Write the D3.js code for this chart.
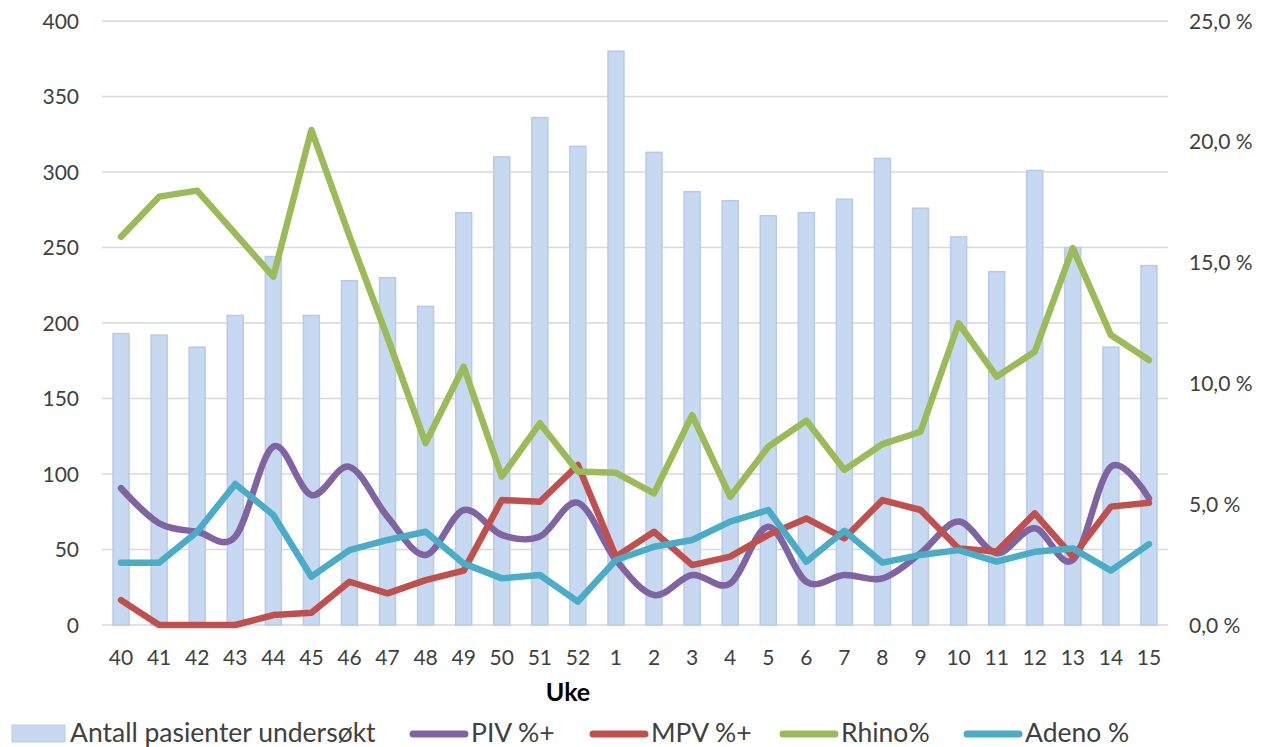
<!DOCTYPE html>
<html>
<head>
<meta charset="utf-8">
<script src="https://cdn.jsdelivr.net/npm/d3@7"></script>
<style>
  body { margin: 0; background: #fff; }
  text { font-family: Lato, "Open Sans", sans-serif; fill: #404040; }
</style>
</head>
<body>
<script>
var weeks = ["40","41","42","43","44","45","46","47","48","49","50","51","52",
  "1","2","3","4","5","6","7","8","9","10","11","12","13","14","15"];

// Antall pasienter undersøkt (left axis)
var patients = [193,192,184,205,244,205,228,230,211,273,310,336,317,
  380,313,287,281,271,273,282,309,276,257,234,301,250,184,238];

// percent series (right axis)
var piv = [5.66,4.21,3.86,3.66,7.38,5.38,6.55,4.48,2.90,4.76,3.73,3.66,5.06,
  2.69,1.24,2.07,1.72,4.07,1.79,2.07,1.93,2.97,4.28,2.97,4.00,2.69,6.55,5.24];
var mpv = [1.03,0,0,0,0.41,0.51,1.79,1.31,1.86,2.25,5.17,5.10,6.62,
  2.83,3.86,2.48,2.83,3.73,4.41,3.59,5.17,4.76,3.17,3.04,4.62,2.83,4.90,5.06];
var rhino = [16.07,17.73,17.98,16.2,14.42,20.49,16.1,11.9,7.53,10.69,6.14,8.35,6.35,
  6.30,5.45,8.69,5.31,7.38,8.46,6.42,7.49,8.00,12.49,10.28,11.31,15.6,12.0,10.97];
var adeno = [2.58,2.58,3.86,5.84,4.55,2.00,3.10,3.52,3.86,2.55,1.93,2.07,0.97,
  2.69,3.24,3.52,4.28,4.76,2.62,3.90,2.58,2.90,3.10,2.62,3.03,3.17,2.25,3.35];

var leftTicks = [0,50,100,150,200,250,300,350,400];
var rightTicks = [0,5,10,15,20,25];

var series = [
  { name: "PIV %+", values: piv, color: "#8064a2", smooth: true },
  { name: "MPV %+", values: mpv, color: "#c0504d", smooth: false },
  { name: "Rhino%", values: rhino, color: "#9bbb59", smooth: false },
  { name: "Adeno %", values: adeno, color: "#4bacc6", smooth: false }
];

var width = 1268, height = 747;
var plotLeft = 102, plotRight = 1168, plotTop = 21, plotBottom = 625;

var svg = d3.select("body").append("svg")
  .attr("width", width).attr("height", height);

var x = d3.scaleBand().domain(weeks).range([plotLeft, plotRight])
  .paddingInner(0.58).paddingOuter(0.29);
var yL = d3.scaleLinear().domain([0, 400]).range([plotBottom, plotTop]);
var yR = d3.scaleLinear().domain([0, 25]).range([plotBottom, plotTop]);

function cx(w) { return x(w) + x.bandwidth() / 2; }

// gridlines
svg.append("g").selectAll("line").data(leftTicks).enter().append("line")
  .attr("x1", plotLeft).attr("x2", plotRight)
  .attr("y1", function (d) { return yL(d); })
  .attr("y2", function (d) { return yL(d); })
  .attr("stroke", "#d9d9d9").attr("stroke-width", 1.5);

// left axis labels
svg.append("g").selectAll("text").data(leftTicks).enter().append("text")
  .attr("x", 79).attr("y", function (d) { return yL(d) + 7.5; })
  .attr("text-anchor", "end").style("font-size", "21px")
  .text(function (d) { return d; });

// right axis labels
var fmt = function (d) { return d3.format(".1f")(d).replace(".", ",") + " %"; };
svg.append("g").selectAll("text").data(rightTicks).enter().append("text")
  .attr("x", 1189).attr("y", function (d) { return yR(d) + 7.5; })
  .attr("text-anchor", "start").style("font-size", "21px")
  .text(fmt);

// bars
svg.append("g").selectAll("rect").data(patients).enter().append("rect")
  .attr("x", function (d, i) { return x(weeks[i]); })
  .attr("width", x.bandwidth())
  .attr("y", function (d) { return yL(d); })
  .attr("height", function (d) { return plotBottom - yL(d); })
  .attr("fill", "#c6d9f0").attr("stroke", "#b6cbe8").attr("stroke-width", 1.5);

// x labels
svg.append("g").selectAll("text").data(weeks).enter().append("text")
  .attr("x", function (d) { return cx(d); }).attr("y", 665)
  .attr("text-anchor", "middle").style("font-size", "21px")
  .text(function (d) { return d; });

svg.append("text").attr("x", 568).attr("y", 701)
  .attr("text-anchor", "middle")
  .style("font-size", "25px").style("font-weight", "bold").style("fill", "#000")
  .text("Uke");

// lines
series.forEach(function (s) {
  var line = d3.line()
    .x(function (d, i) { return cx(weeks[i]); })
    .y(function (d) { return yR(d); })
    .curve(s.smooth ? d3.curveCardinal.tension(0) : d3.curveLinear);
  svg.append("path").datum(s.values)
    .attr("d", line)
    .attr("fill", "none").attr("stroke", s.color)
    .attr("stroke-width", 6.5)
    .attr("stroke-linejoin", "round").attr("stroke-linecap", "round");
});

// legend
var lg = svg.append("g");
lg.append("rect").attr("x", 12).attr("y", 725).attr("width", 53).attr("height", 17)
  .attr("fill", "#c6d9f0").attr("stroke", "#b6cbe8").attr("stroke-width", 1);
lg.append("text").attr("x", 70).attr("y", 742).style("font-size", "26.5px")
  .text("Antall pasienter undersøkt");

var legX = [410, 590, 780, 964];
series.forEach(function (s, i) {
  lg.append("line").attr("x1", legX[i] + 3).attr("x2", legX[i] + 55)
    .attr("y1", 734).attr("y2", 734)
    .attr("stroke", s.color).attr("stroke-width", 7).attr("stroke-linecap", "round");
  lg.append("text").attr("x", legX[i] + 61).attr("y", 742).style("font-size", "26.5px")
    .text(s.name);
});
</script>
</body>
</html>
